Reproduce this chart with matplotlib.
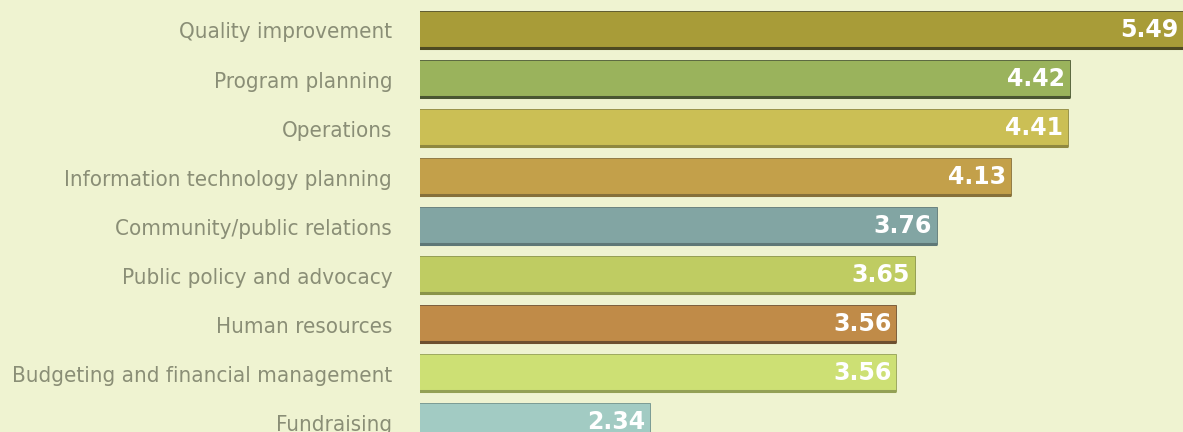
import matplotlib.pyplot as plt
import matplotlib.transforms as mtransforms

categories = ["Quality improvement", "Program planning", "Operations",
              "Information technology planning", "Community/public relations",
              "Public policy and advocacy", "Human resources",
              "Budgeting and financial management", "Fundraising"]
values = [5.49, 4.42, 4.41, 4.13, 3.76, 3.65, 3.56, 3.56, 2.34]
colors = ["#a89c38", "#9ab35c", "#cbbf55", "#c3a04a", "#82a5a3",
          "#bfcc62", "#c08b48", "#cde074", "#a2cbc3"]
edges = ["#4e4a22", "#4a5632", "#8f8840", "#86703a", "#5f7877",
         "#8a9448", "#6d5030", "#93a055", "#6f918b"]

bg = "#eff3d1"
fig = plt.figure(figsize=(11.83, 4.32), dpi=100, facecolor=bg)
ax = fig.add_axes([420 / 1183, 0, 1 - 420 / 1183, 1])
ax.set_facecolor(bg)

y = list(range(len(categories)))
h = 0.755
ax.barh(y, values, height=h, left=0, color=colors, edgecolor=edges, linewidth=0.6)
# darker shadow line along the bottom of each bar
ax.hlines([i + h / 2 for i in y], 0, values, colors=edges, linewidth=2.2)

xmin, xmax = 1.2, 4.98
ax.set_xlim(xmin, xmax)
ax.set_ylim(8.214, -0.602)

for i, v in enumerate(values):
    ax.text(min(v, xmax) - 0.025, i + 0.02, f"{v:.2f}", ha="right", va="center",
            color="white", fontsize=17, fontweight="bold", family="DejaVu Sans")

ax.set_yticks(y)
ax.set_yticklabels(categories, family="DejaVu Sans", fontstretch="condensed",
                   fontsize=16, color="#8a8e76")
ax.tick_params(axis="y", length=0, pad=20)
shift = mtransforms.ScaledTranslation(0, -1 / 100, fig.dpi_scale_trans)
for lab in ax.get_yticklabels():
    lab.set_transform(lab.get_transform() + shift)
ax.set_xticks([])
for s in ax.spines.values():
    s.set_visible(False)

fig.savefig("out.png", dpi=100, facecolor=bg)
plt.close()
